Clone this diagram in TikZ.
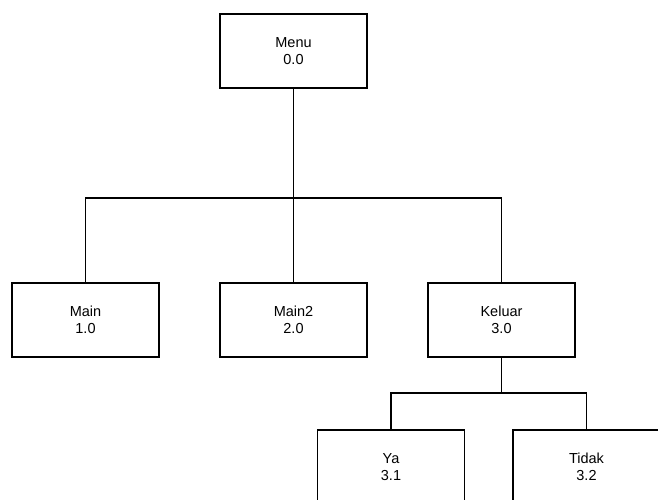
\documentclass[tikz,border=0pt]{standalone}
\usepackage{fontspec}
\setmainfont{Liberation Sans}
\begin{document}
\begin{tikzpicture}[x=1pt,y=-1pt,
  box/.style={draw, line width=1.1pt, minimum width=147pt, minimum height=74pt,
    align=center, inner sep=0pt, font=\fontsize{14.5}{17.6}\selectfont},
  conn/.style={line width=1.1pt}]
\useasboundingbox (0,0) rectangle (658,500);
\clip (0,0) rectangle (658,500);
\node[box] (menu) at (293.5,51) {Menu\\0.0};
\node[box] (main) at (85.5,320) {Main\\1.0};
\node[box] (main2) at (293.5,320) {Main2\\2.0};
\node[box] (keluar) at (501.5,320) {Keluar\\3.0};
\node[box] (ya) at (391,467) {Ya\\3.1};
\node[box] (tidak) at (586.5,467) {Tidak\\3.2};
\coordinate (b1) at (293.5,198);
\coordinate (b2) at (501.5,393);
\draw[conn] (menu.south) -- (main2.north);
\draw[conn] (main.north) -- (main.north |- b1) -- (keluar.north |- b1) -- (keluar.north);
\draw[conn] (keluar.south) -- (b2);
\draw[conn] (ya.north) -- (ya.north |- b2) -- (tidak.north |- b2) -- (tidak.north);
\end{tikzpicture}
\end{document}
